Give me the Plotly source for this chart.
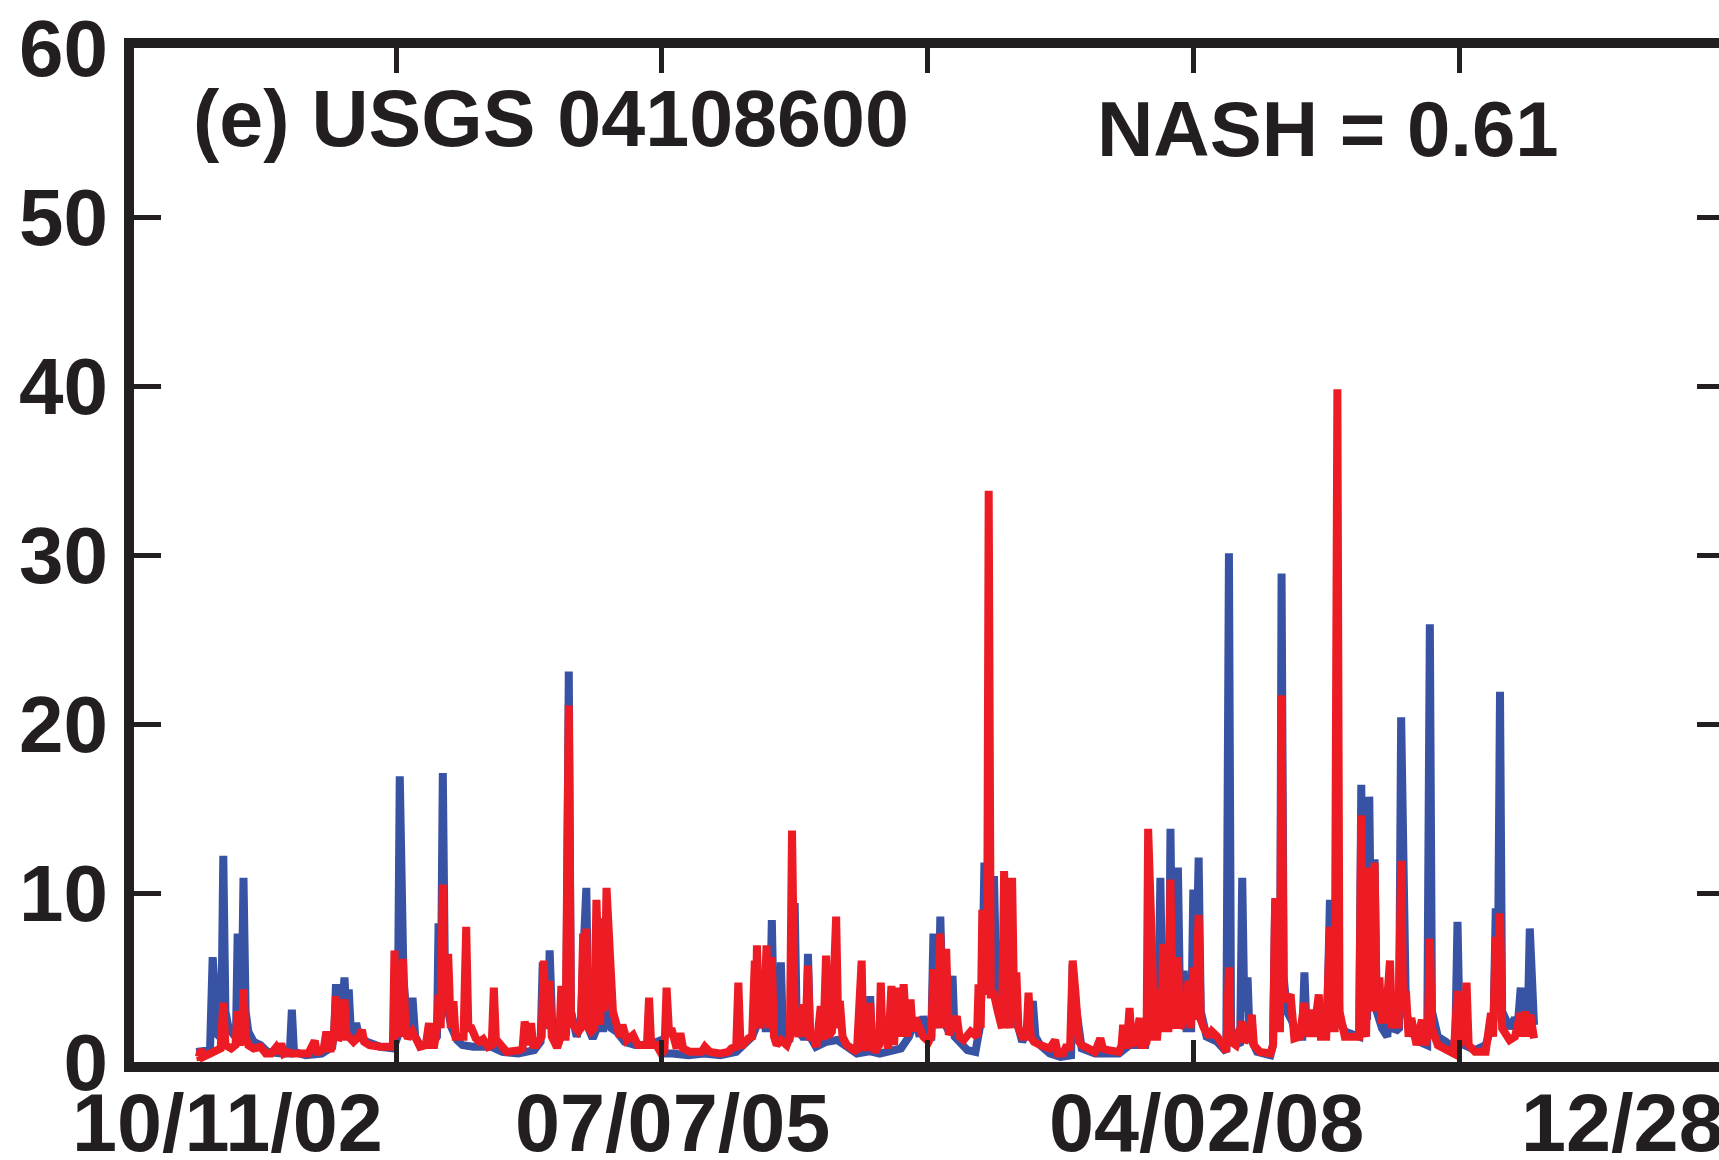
import pandas as pd
import plotly.graph_objects as go

# ---------------- data ----------------
START_DATE = "2002-10-11"          # day 0 of the record / first x label

# Observed discharge (blue): day offset since START_DATE, value
obs_day = [124, 140, 150, 155, 159, 165, 171, 175, 179, 185, 195, 199, 202, 205, 209, 213, 217, 222, 232, 245,
           258, 285, 300, 304, 308, 330, 360, 380, 384, 387, 391, 396, 403, 407, 411, 415, 420, 425, 430, 445,
           470, 495, 503, 507, 510, 514, 520, 528, 531, 536, 545, 560, 570, 577, 580, 584, 588, 592, 598, 605,
           615, 625, 645, 660, 680, 700, 730, 760, 772, 776, 780, 786, 789, 794, 803, 812, 820, 825, 829, 840,
           848, 852, 858, 862, 870, 878, 890, 896, 905, 915, 930, 950, 975, 999, 1003, 1020, 1050, 1080, 1110, 1140,
           1160, 1170, 1183, 1188, 1195, 1203, 1207, 1211, 1216, 1221, 1224, 1228, 1240, 1245, 1250, 1254, 1265, 1272, 1275, 1279,
           1290, 1310, 1330, 1350, 1367, 1385, 1389, 1392, 1396, 1410, 1430, 1450, 1465, 1477, 1485, 1492, 1500, 1507, 1511, 1516,
           1520, 1524, 1529, 1540, 1547, 1551, 1560, 1575, 1590, 1598, 1603, 1607, 1612, 1615, 1620, 1625, 1630, 1636, 1640, 1650,
           1660, 1667, 1678, 1690, 1698, 1703, 1712, 1730, 1750, 1770, 1773, 1778, 1790, 1815, 1860, 1880, 1910, 1918, 1930, 1934,
           1938, 1942, 1950, 1954, 1957, 1961, 1967, 1971, 1975, 1982, 1987, 1996, 2000, 2004, 2010, 2014, 2025, 2045, 2062, 2067,
           2071, 2080, 2088, 2092, 2096, 2102, 2106, 2120, 2145, 2150, 2154, 2158, 2163, 2166, 2170, 2176, 2186, 2195, 2205, 2209,
           2213, 2225, 2236, 2250, 2253, 2257, 2261, 2266, 2271, 2275, 2285, 2300, 2312, 2316, 2320, 2327, 2331, 2335, 2341, 2345,
           2355, 2365, 2370, 2380, 2387, 2391, 2395, 2400, 2410, 2425, 2440, 2445, 2449, 2460, 2475, 2490, 2493, 2497, 2501, 2510,
           2530, 2550, 2560, 2565, 2569, 2573, 2577, 2581, 2595, 2605, 2610, 2616, 2620, 2625, 2629, 2633, 2641]
obs_q = [0.6, 0.6, 0.7, 6.2, 3.5, 1.6, 1.4, 12.2, 3.0, 2.0, 1.6, 1.8, 7.6, 2.5, 2.0, 10.9, 3.0, 1.8, 1.2, 1.0,
         0.6, 0.5, 0.5, 3.1, 0.6, 0.4, 0.5, 0.9, 2.0, 4.6, 1.8, 2.0, 5.0, 2.5, 4.3, 1.8, 1.5, 2.3, 1.5, 1.2,
         0.9, 0.8, 1.5, 16.9, 11.8, 5.0, 2.5, 1.5, 3.8, 1.5, 1.0, 1.0, 1.2, 1.5, 8.2, 2.5, 17.1, 5.0, 3.0, 2.0,
         1.3, 1.0, 0.9, 0.9, 0.9, 0.6, 0.5, 0.7, 1.2, 5.9, 2.0, 2.5, 6.6, 2.0, 1.2, 1.5, 1.7, 23.1, 3.0, 1.5,
         2.5, 6.0, 10.3, 2.0, 1.4, 2.0, 2.0, 4.5, 2.0, 1.8, 1.2, 1.0, 1.0, 1.3, 0.5, 0.5, 0.4, 0.5, 0.4, 0.6,
         1.2, 1.5, 2.5, 3.6, 2.0, 2.0, 8.4, 2.0, 1.5, 1.5, 5.9, 1.5, 1.2, 3.0, 9.4, 2.0, 1.5, 1.5, 6.4, 1.5,
         0.9, 1.2, 1.3, 0.8, 0.5, 0.6, 1.8, 3.9, 0.6, 0.5, 0.6, 0.8, 1.5, 2.6, 1.5, 2.7, 1.5, 1.5, 7.6, 3.0,
         2.0, 8.6, 2.5, 1.8, 5.1, 1.5, 1.2, 0.7, 0.6, 2.0, 5.0, 11.8, 5.0, 8.0, 4.0, 11.0, 3.5, 7.2, 3.0, 2.5,
         3.0, 2.5, 1.2, 2.0, 3.6, 1.5, 1.0, 0.5, 0.3, 0.4, 5.8, 3.5, 0.8, 0.5, 0.5, 1.0, 1.0, 2.5, 1.5, 2.0,
         10.9, 3.0, 2.0, 2.5, 13.8, 3.0, 2.5, 11.5, 3.5, 5.4, 2.0, 2.0, 10.2, 3.0, 12.1, 3.0, 1.5, 1.2, 0.6, 30.1,
         2.0, 1.2, 1.0, 10.9, 3.0, 5.0, 1.5, 0.6, 0.4, 1.0, 9.5, 2.5, 2.0, 28.9, 5.0, 3.0, 2.4, 1.5, 1.5, 5.3,
         2.0, 2.0, 2.0, 2.0, 4.0, 9.6, 3.0, 2.0, 7.0, 2.5, 1.8, 1.6, 1.5, 16.4, 3.0, 2.5, 15.7, 5.0, 12.0, 3.0,
         2.0, 1.5, 4.0, 1.8, 2.0, 20.4, 9.7, 3.0, 1.8, 1.2, 1.0, 25.9, 3.0, 1.5, 1.2, 0.8, 1.5, 8.3, 2.0, 1.0,
         0.7, 1.0, 2.0, 2.5, 9.1, 5.0, 21.9, 3.0, 2.0, 2.6, 2.0, 4.4, 2.5, 4.2, 2.0, 7.9, 2.2]

# Simulated discharge (red): day offset since START_DATE, value
sim_day = [124, 129, 133, 137, 150, 160, 170, 175, 179, 190, 198, 202, 206, 210, 213, 217, 222, 232, 245, 255,
           265, 274, 279, 284, 289, 295, 304, 320, 335, 347, 351, 356, 364, 369, 373, 378, 383, 387, 391, 395,
           403, 407, 411, 420, 430, 436, 440, 450, 470, 494, 497, 501, 503, 508, 513, 518, 522, 531, 540, 545,
           556, 562, 566, 572, 577, 580, 584, 588, 592, 598, 603, 608, 612, 620, 627, 632, 636, 642, 650, 657,
           664, 673, 680, 684, 688, 692, 708, 733, 738, 742, 746, 749, 754, 758, 764, 774, 778, 782, 789, 793,
           803, 807, 811, 815, 819, 825, 829, 833, 843, 848, 852, 855, 858, 862, 867, 873, 877, 881, 884, 889,
           892, 896, 902, 908, 915, 921, 926, 934, 946, 955, 965, 972, 976, 980, 990, 999, 1005, 1009, 1014, 1018,
           1028, 1035, 1040, 1053, 1075, 1081, 1090, 1109, 1125, 1131, 1140, 1144, 1148, 1152, 1163, 1170, 1175, 1177, 1179, 1184,
           1187, 1193, 1197, 1201, 1207, 1211, 1216, 1224, 1235, 1241, 1245, 1250, 1257, 1266, 1270, 1275, 1279, 1285, 1291, 1299,
           1304, 1309, 1313, 1320, 1328, 1332, 1335, 1340, 1348, 1367, 1376, 1379, 1382, 1389, 1392, 1396, 1401, 1409, 1412, 1415,
           1418, 1426, 1432, 1437, 1442, 1448, 1455, 1461, 1468, 1472, 1477, 1492, 1502, 1507, 1511, 1518, 1524, 1529, 1535, 1540,
           1555, 1560, 1568, 1581, 1593, 1596, 1600, 1603, 1608, 1612, 1615, 1619, 1625, 1632, 1640, 1644, 1648, 1651, 1655, 1659,
           1663, 1667, 1671, 1678, 1686, 1690, 1694, 1700, 1712, 1730, 1740, 1745, 1755, 1762, 1768, 1773, 1778, 1785, 1790, 1815,
           1825, 1830, 1840, 1860, 1865, 1868, 1871, 1875, 1880, 1884, 1890, 1899, 1903, 1908, 1912, 1915, 1922, 1926, 1932, 1938,
           1941, 1943, 1947, 1953, 1957, 1961, 1966, 1971, 1975, 1983, 1991, 1995, 2000, 2004, 2010, 2014, 2020, 2030, 2035, 2045,
           2055, 2062, 2067, 2071, 2080, 2092, 2096, 2105, 2110, 2114, 2125, 2145, 2150, 2154, 2158, 2163, 2166, 2170, 2176, 2183,
           2190, 2200, 2209, 2213, 2222, 2226, 2236, 2240, 2250, 2257, 2261, 2266, 2271, 2275, 2285, 2300, 2312, 2316, 2320, 2325,
           2331, 2335, 2338, 2341, 2345, 2350, 2354, 2362, 2370, 2374, 2380, 2386, 2391, 2395, 2400, 2405, 2410, 2420, 2430, 2436,
           2441, 2445, 2449, 2460, 2475, 2490, 2497, 2501, 2510, 2514, 2518, 2530, 2550, 2560, 2564, 2569, 2573, 2577, 2581, 2595,
           2605, 2616, 2620, 2625, 2630, 2634, 2641]
sim_q = [0.27, 0.3, 0.75, 0.3, 0.5, 0.6, 0.8, 3.5, 1.0, 0.8, 1.0, 3.0, 1.0, 1.5, 4.3, 1.5, 1.0, 0.8, 0.9, 0.5,
         0.5, 0.85, 0.5, 1.1, 0.5, 0.6, 0.5, 0.5, 0.5, 1.25, 0.6, 0.6, 0.8, 1.8, 0.8, 0.8, 1.5, 3.9, 1.3, 1.5,
         3.7, 1.5, 1.5, 1.2, 1.5, 1.9, 1.2, 1.0, 0.9, 0.9, 6.6, 1.5, 2.0, 1.5, 6.1, 1.8, 1.4, 1.8, 1.2, 0.9,
         1.0, 2.3, 1.0, 1.0, 2.0, 4.0, 2.0, 10.5, 3.0, 6.4, 2.0, 3.6, 1.5, 1.5, 1.5, 8.0, 2.0, 2.0, 1.4, 1.2,
         1.35, 0.9, 1.0, 4.4, 1.2, 1.2, 0.6, 0.7, 0.8, 2.4, 1.0, 1.0, 2.3, 1.0, 1.0, 1.5, 6.0, 2.0, 4.8, 1.5,
         0.85, 1.2, 4.5, 1.5, 1.5, 21.1, 3.0, 2.2, 1.8, 2.0, 7.6, 2.5, 7.9, 2.0, 1.8, 2.0, 9.6, 2.5, 2.2, 8.5,
         3.0, 10.3, 6.4, 3.0, 2.2, 1.5, 2.2, 1.3, 1.6, 1.0, 1.0, 1.0, 3.8, 1.0, 1.0, 0.5, 0.7, 4.4, 1.5, 2.0,
         0.8, 1.7, 0.8, 0.6, 0.6, 0.9, 0.6, 0.5, 0.6, 0.8, 0.9, 4.7, 1.0, 1.0, 1.4, 1.5, 6.0, 3.0, 6.9, 2.0,
         2.5, 3.0, 6.9, 2.0, 6.2, 1.5, 1.0, 1.3, 1.0, 1.5, 13.7, 2.5, 1.5, 3.4, 1.5, 5.7, 1.5, 1.5, 0.9, 3.3,
         1.3, 6.3, 1.5, 1.8, 8.6, 2.0, 3.6, 1.5, 1.0, 0.6, 6.0, 1.0, 0.7, 1.5, 3.5, 1.0, 0.6, 1.0, 4.7, 1.5,
         2.0, 0.8, 4.5, 1.0, 4.4, 1.5, 4.6, 1.5, 3.7, 1.8, 2.6, 1.5, 1.2, 1.5, 5.5, 2.0, 7.6, 2.0, 6.7, 1.6,
         2.7, 1.5, 1.3, 1.8, 1.5, 4.6, 2.0, 9.0, 4.0, 5.0, 33.8, 4.0, 4.0, 3.0, 2.0, 11.3, 2.5, 3.0, 2.0, 10.9,
         3.0, 5.3, 2.0, 1.5, 1.5, 4.1, 1.5, 1.2, 1.0, 0.8, 1.3, 0.5, 0.5, 1.0, 0.7, 6.0, 4.2, 1.2, 1.0, 0.6,
         1.4, 0.8, 0.7, 0.6, 1.0, 2.2, 1.0, 1.0, 3.2, 1.2, 1.0, 2.6, 1.0, 1.0, 1.2, 13.8, 7.0, 1.5, 1.5, 4.3,
         2.0, 7.0, 2.0, 2.0, 10.8, 2.5, 2.0, 6.2, 2.0, 2.5, 4.8, 2.0, 5.6, 2.5, 8.7, 2.5, 2.0, 1.5, 1.8, 1.5,
         1.0, 0.6, 5.6, 1.2, 1.0, 2.4, 1.2, 1.5, 2.8, 1.0, 0.6, 0.5, 1.0, 9.7, 2.0, 2.0, 21.7, 4.0, 3.6, 4.0,
         1.4, 1.5, 3.5, 1.5, 3.1, 1.5, 4.0, 1.5, 1.5, 8.0, 2.0, 2.0, 39.8, 3.0, 1.5, 1.5, 1.5, 14.6, 2.0, 1.5,
         11.5, 3.0, 4.0, 11.8, 3.0, 5.0, 2.5, 2.5, 6.0, 2.0, 3.7, 2.0, 11.9, 3.0, 4.2, 1.5, 2.6, 1.0, 2.5, 1.0,
         1.5, 7.3, 2.0, 1.0, 0.8, 0.5, 4.2, 1.0, 1.5, 4.7, 1.0, 0.6, 0.6, 2.9, 1.5, 7.4, 5.0, 8.8, 2.0, 1.3,
         1.5, 2.9, 1.5, 3.0, 1.5, 2.8, 1.4]

# axis / label content
x_label_text = ["10/11/02", "07/07/05", "04/02/08", "12/28/10"]
x_label_day = [0, 1000, 2000, 3000]
x_label_shift = [97, 11, 13, -46]          # label offsets as placed in the original figure (px)
x_tick_day = [500, 1000, 1500, 2000, 2500]
y_tick_vals = [0, 10, 20, 30, 40, 50, 60]
panel_title = "(e) USGS 04108600"
nash_label = "NASH = 0.61"

# ---------------- figure ----------------
start = pd.Timestamp(START_DATE)
to_dates = lambda days: [start + pd.Timedelta(days=d) for d in days]

X_RANGE_DAYS = (7, 2989)
x0 = start + pd.Timedelta(days=X_RANGE_DAYS[0])
x1 = start + pd.Timedelta(days=X_RANGE_DAYS[1])
Y_RANGE = [0, 60]

INK = "#231F20"
BLUE = "#3953A4"
RED = "#ED1C24"
FONT = "Liberation Sans"
LW = 8

fig = go.Figure()
fig.add_trace(go.Scatter(x=to_dates(obs_day), y=obs_q, mode="lines",
                         line=dict(color=BLUE, width=LW), name="Observed", hoverinfo="skip"))
fig.add_trace(go.Scatter(x=to_dates(sim_day), y=sim_q, mode="lines",
                         line=dict(color=RED, width=LW), name="Simulated", hoverinfo="skip"))
# invisible carriers so the tick-only overlay axes get drawn
for xa, ya in [("x2", "y"), ("x3", "y"), ("x", "y2"), ("x", "y3")]:
    fig.add_trace(go.Scatter(x=[x0], y=[0], xaxis=xa, yaxis=ya, mode="markers",
                             marker=dict(opacity=0), showlegend=False, hoverinfo="skip"))

frame = dict(showline=True, linewidth=10, linecolor=INK, showgrid=False, zeroline=False, ticks="")
tick_only = dict(ticks="inside", tickwidth=5, tickcolor=INK, showticklabels=False,
                 showline=False, showgrid=False, zeroline=False)

fig.update_layout(
    width=1719, height=1160,
    margin=dict(l=134, r=0, t=48, b=98),
    paper_bgcolor="white", plot_bgcolor="white",
    showlegend=False,
    xaxis=dict(type="date", range=[x0, x1], showticklabels=False, mirror=True, **frame),
    yaxis=dict(range=Y_RANGE, tickvals=y_tick_vals,
               tickfont=dict(family=FONT, size=80, color=INK, weight="bold"), **frame),
    xaxis2=dict(type="date", range=[x0, x1], tickvals=to_dates(x_tick_day),
                overlaying="x", anchor="y", side="bottom", ticklen=22, **tick_only),
    xaxis3=dict(type="date", range=[x0, x1], tickvals=to_dates(x_tick_day),
                overlaying="x", anchor="y", side="top", ticklen=25, **tick_only),
    yaxis2=dict(range=Y_RANGE, tickvals=y_tick_vals, overlaying="y", anchor="x", side="right",
                ticklen=22, **tick_only),
    yaxis3=dict(range=Y_RANGE, tickvals=y_tick_vals, overlaying="y", anchor="x", side="left",
                ticklen=27, **tick_only),
)

span = (x1 - x0)
for txt, d, sh in zip(x_label_text, x_label_day, x_label_shift):
    px = (start + pd.Timedelta(days=d) - x0) / span
    fig.add_annotation(text=txt, xref="paper", yref="paper", x=px, y=0, xshift=sh, yshift=-61,
                       xanchor="center", yanchor="middle", showarrow=False,
                       font=dict(family=FONT, size=81, color=INK, weight="bold"))

fig.add_annotation(text=panel_title, xref="paper", yref="paper", x=0.2631, y=0.930,
                   xanchor="center", yanchor="middle", showarrow=False,
                   font=dict(family=FONT, size=79, color=INK, weight="bold"))
fig.add_annotation(text=nash_label, xref="paper", yref="paper", x=0.7533, y=0.920,
                   xanchor="center", yanchor="middle", showarrow=False,
                   font=dict(family=FONT, size=78, color=INK, weight="bold"))

fig.write_html("out.html")
